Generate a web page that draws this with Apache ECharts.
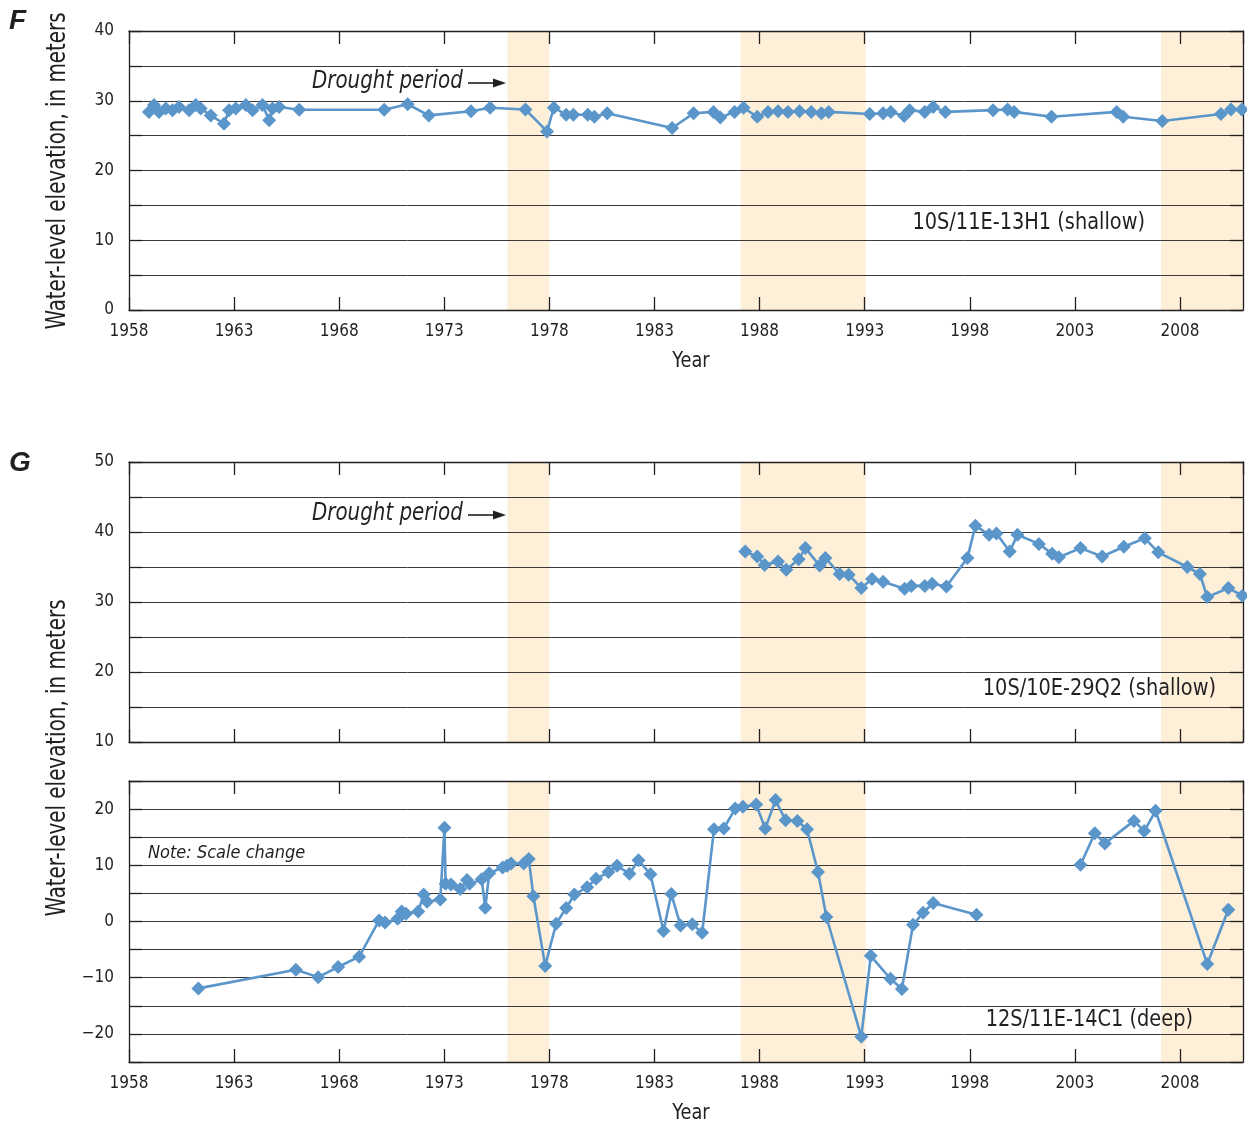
<!DOCTYPE html>
<html>
<head>
<meta charset="utf-8">
<script src="https://cdn.jsdelivr.net/npm/echarts@6/dist/echarts.min.js"></script>
<style>
html,body{margin:0;padding:0;background:#ffffff;}
#chart{width:1247px;height:1130px;}
</style>
</head>
<body>
<div id="chart"></div>
<script>
// ---------------- DATA ----------------
const X_START = 1958, X_END = 2011, X_STEP = 5;
const droughtPeriods = [[1976.0, 1978.0], [1987.1, 1993.05], [2007.1, 2011.0]];

// Panel F: 10S/11E-13H1 (shallow)
const fYears = [1958.95, 1959.19, 1959.43, 1959.75, 1960.07, 1960.38, 1960.86, 1961.18, 1961.41, 1961.89,
  1962.52, 1962.76, 1963.08, 1963.56, 1963.88, 1964.35, 1964.67, 1964.83, 1965.14, 1966.1,
  1970.14, 1971.26, 1972.26, 1974.27, 1975.18, 1976.86, 1977.89, 1978.21, 1978.8, 1979.14,
  1979.83, 1980.14, 1980.75, 1983.84, 1984.86, 1985.81, 1986.13, 1986.81, 1987.24, 1987.89,
  1988.4, 1988.88, 1989.35, 1989.9, 1990.46, 1990.94, 1991.29, 1993.24, 1993.88, 1994.24,
  1994.88, 1995.14, 1995.86, 1996.26, 1996.84, 1999.11, 1999.8, 2000.11, 2001.89, 2004.99,
  2005.3, 2007.16, 2009.95, 2010.43, 2010.94];
const fLevels = [28.4, 29.4, 28.4, 28.9, 28.65, 29.1, 28.65, 29.4, 28.9, 27.9,
  26.7, 28.65, 28.9, 29.4, 28.65, 29.4, 27.2, 28.9, 29.1, 28.7,
  28.7, 29.5, 27.9, 28.5, 29.0, 28.75, 25.6, 29.0, 28.0, 28.0,
  28.0, 27.7, 28.2, 26.1, 28.2, 28.4, 27.6, 28.4, 29.0, 27.7,
  28.4, 28.5, 28.4, 28.5, 28.4, 28.2, 28.4, 28.1, 28.2, 28.4,
  27.8, 28.65, 28.4, 29.1, 28.4, 28.65, 28.75, 28.4, 27.7, 28.4,
  27.7, 27.1, 28.1, 28.75, 28.75];

// Panel G upper: 10S/10E-29Q2 (shallow)
const gUpYears = [1987.32, 1987.89, 1988.24, 1988.88, 1989.27, 1989.86, 1990.18, 1990.86, 1991.13, 1991.81,
  1992.24, 1992.84, 1993.35, 1993.88, 1994.9, 1995.22, 1995.86, 1996.21, 1996.89, 1997.89,
  1998.27, 1998.92, 1999.27, 1999.9, 2000.27, 2001.29, 2001.92, 2002.24, 2003.27, 2004.3,
  2005.33, 2006.33, 2006.97, 2008.35, 2008.95, 2009.3, 2010.3, 2010.97];
const gUpLevels = [37.2, 36.5, 35.3, 35.8, 34.6, 36.1, 37.7, 35.2, 36.3, 34.0,
  33.9, 32.0, 33.3, 32.9, 31.9, 32.3, 32.3, 32.6, 32.2, 36.3,
  40.9, 39.6, 39.8, 37.2, 39.6, 38.3, 36.9, 36.4, 37.7, 36.5,
  37.9, 39.1, 37.1, 35.0, 34.0, 30.7, 32.0, 30.9];

// Panel G lower: 12S/11E-14C1 (deep)  (null = gap in record)
const gLowYears = [1961.3, 1965.94, 1967.0, 1967.95, 1968.95, 1969.9, 1970.18, 1970.78, 1970.97, 1971.18,
  1971.76, 1972.02, 1972.18, 1972.81, 1973.01, 1973.06, 1973.32, 1973.76, 1974.08, 1974.2,
  1974.78, 1974.95, 1975.14, 1975.78, 1975.99, 1976.18, 1976.78, 1977.02, 1977.24, 1977.8,
  1978.32, 1978.8, 1979.19, 1979.8, 1980.22, 1980.81, 1981.22, 1981.81, 1982.24, 1982.81,
  1983.43, 1983.8, 1984.24, 1984.8, 1985.27, 1985.83, 1986.3, 1986.84, 1987.21, 1987.84,
  1988.27, 1988.76, 1989.24, 1989.8, 1990.26, 1990.78, 1991.18, 1992.84, 1993.29, 1994.23,
  1994.77, 1995.3, 1995.78, 1996.26, 1998.32, 2000.8, 2003.27, 2003.95, 2004.43, 2005.81,
  2006.3, 2006.84, 2009.3, 2010.3];
const gLowLevels = [-11.9, -8.6, -9.9, -8.1, -6.25, 0.2, -0.2, 0.5, 1.8, 1.4,
  1.8, 4.8, 3.5, 3.9, 16.7, 6.7, 6.6, 5.8, 7.4, 6.7,
  7.5, 2.45, 8.6, 9.6, 9.9, 10.3, 10.3, 11.1, 4.5, -7.9,
  -0.4, 2.4, 4.8, 6.1, 7.6, 8.8, 9.9, 8.5, 10.9, 8.4,
  -1.7, 4.9, -0.7, -0.5, -2.0, 16.4, 16.55, 20.1, 20.4, 20.8,
  16.55, 21.6, 18.0, 17.9, 16.4, 8.8, 0.8, -20.5, -6.1, -10.2,
  -12.0, -0.6, 1.55, 3.3, 1.2, null, 10.1, 15.7, 13.9, 17.9,
  16.1, 19.7, -7.55, 2.1];

const wellNames = ['10S/11E-13H1 (shallow)', '10S/10E-29Q2 (shallow)', '12S/11E-14C1 (deep)'];
const yRanges = [[0, 40], [10, 50], [-25, 25]];

// ---------------- STYLE / LAYOUT ----------------
const FONT = "'DejaVu Sans Condensed','Liberation Sans Narrow','DejaVu Sans',sans-serif";
const INK = '#231f20';
const BLUE = '#5b96cb';
const SHADE = '#fdefd8';
const layout = [
  {top: 31, height: 279, xLabels: true},
  {top: 462, height: 280, xLabels: false},
  {top: 781, height: 281, xLabels: true}
];
const seriesData = [[fYears, fLevels], [gUpYears, gUpLevels], [gLowYears, gLowLevels]];

function fmtY(v) {
  if (v % 10 !== 0) return '';
  return v < 0 ? '\u2212' + Math.abs(v) : String(v);
}
function fmtX(v) {
  const r = Math.round(v);
  if (Math.abs(v - r) > 1e-6 || r % X_STEP !== 0) return '';
  return String(X_START + r);
}

const grids = [], xAxes = [], yAxes = [], series = [];
layout.forEach((l, i) => {
  grids.push({left: 129, top: l.top, width: 1114, height: l.height, containLabel: false, outerBoundsMode: 'none', show: false});
  const xBase = {
    gridIndex: i, type: 'value', min: 0, max: X_END - X_START, interval: X_STEP, z: 1,
    axisLine: {show: true, onZero: false, lineStyle: {color: INK, width: 1.3}},
    axisTick: {show: true, inside: true, length: 13, lineStyle: {color: INK, width: 1.3}},
    splitLine: {show: false}
  };
  xAxes.push(Object.assign({}, xBase, {
    position: 'bottom',
    axisLabel: {show: l.xLabels, formatter: fmtX, margin: 13, fontSize: 17, color: INK, fontFamily: FONT, showMaxLabel: false}
  }));
  xAxes.push(Object.assign({}, xBase, {position: 'top', axisLabel: {show: false}}));
  const yBase = {
    gridIndex: i, type: 'value', min: yRanges[i][0], max: yRanges[i][1], interval: 5, z: 1,
    axisLine: {show: true, onZero: false, lineStyle: {color: INK, width: 1.3}},
    axisTick: {show: true, inside: true, length: 13, lineStyle: {color: INK, width: 1.3}}
  };
  yAxes.push(Object.assign({}, yBase, {
    position: 'left',
    axisLabel: {show: true, formatter: fmtY, margin: 15, fontSize: 17, color: INK, fontFamily: FONT},
    splitLine: {show: true, lineStyle: {color: '#3a3a3a', width: 1}}
  }));
  yAxes.push(Object.assign({}, yBase, {position: 'right', axisLabel: {show: false}, splitLine: {show: false}}));

  const [ys, vs] = seriesData[i];
  series.push({
    type: 'line', xAxisIndex: 2 * i, yAxisIndex: 2 * i, z: 2,
    data: ys.map((y, k) => [y - X_START, vs[k] === null ? '-' : vs[k]]),
    connectNulls: false, clip: false,
    symbol: 'diamond', symbolSize: 14, showSymbol: true,
    lineStyle: {color: BLUE, width: 2.6},
    itemStyle: {color: BLUE},
    emphasis: {disabled: true},
    markArea: {
      silent: true, z: 0,
      itemStyle: {color: SHADE},
      label: {show: false},
      data: droughtPeriods.map(p => [{xAxis: p[0] - X_START}, {xAxis: p[1] - X_START}])
    }
  });
});

function txt(x, y, text, opts) {
  const o = opts || {};
  const style = Object.assign({
    text: text, fill: INK, fontFamily: FONT, fontSize: 20,
    align: 'left', verticalAlign: 'middle', textAlign: 'left', textVerticalAlign: 'middle'
  }, o.style || {});
  return Object.assign({type: 'text', x: x, y: y, z: 10, style: style}, o.el || {});
}
function arrow(y) {
  return [
    {type: 'line', z: 10, shape: {x1: 468, y1: y, x2: 497, y2: y}, style: {stroke: INK, lineWidth: 1.6}},
    {type: 'polygon', z: 10, shape: {points: [[493, y - 4.5], [506, y], [493, y + 4.5]]}, style: {fill: INK}}
  ];
}
const ctr = {align: 'center', textAlign: 'center'};
const rgt = {align: 'right', textAlign: 'right'};
const letterStyle = {fontFamily: "'Liberation Sans','DejaVu Sans',sans-serif", fontSize: 28, fontStyle: 'italic', fontWeight: 'bold'};
const graphics = [
  txt(9, 21, 'F', {style: letterStyle}),
  txt(9, 463, 'G', {style: letterStyle}),
  txt(58, 171, 'Water-level elevation, in meters', {style: Object.assign({fontSize: 26}, ctr), el: {rotation: Math.PI / 2, scaleX: 0.85}}),
  txt(58, 758, 'Water-level elevation, in meters', {style: Object.assign({fontSize: 26}, ctr), el: {rotation: Math.PI / 2, scaleX: 0.85}}),
  txt(691, 362, 'Year', {style: Object.assign({fontSize: 21}, ctr), el: {scaleX: 0.94}}),
  txt(691, 1114, 'Year', {style: Object.assign({fontSize: 21}, ctr), el: {scaleX: 0.94}}),
  txt(312, 82, 'Drought period', {style: {fontSize: 24, fontStyle: 'italic'}, el: {scaleX: 0.92}}),
  txt(312, 514, 'Drought period', {style: {fontSize: 24, fontStyle: 'italic'}, el: {scaleX: 0.92}}),
  ...arrow(83), ...arrow(515),
  txt(1145, 223, wellNames[0], {style: Object.assign({fontSize: 23}, rgt), el: {scaleX: 0.935}}),
  txt(1216, 689, wellNames[1], {style: Object.assign({fontSize: 23}, rgt), el: {scaleX: 0.935}}),
  txt(1193, 1020, wellNames[2], {style: Object.assign({fontSize: 23}, rgt), el: {scaleX: 0.935}}),
  txt(148, 853, 'Note: Scale change', {style: {fontSize: 18, fontStyle: 'italic'}})
];

const chart = echarts.init(document.getElementById('chart'), null, {renderer: 'canvas'});
chart.setOption({
  backgroundColor: '#ffffff',
  animation: false,
  grid: grids,
  xAxis: xAxes,
  yAxis: yAxes,
  series: series,
  graphic: graphics
});
</script>
</body>
</html>
